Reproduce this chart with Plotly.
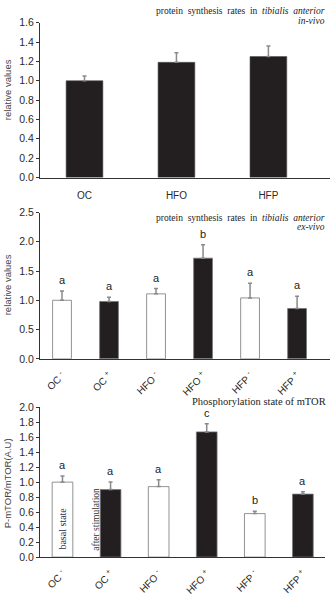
import plotly.graph_objects as go

# ---- data ----
cats1 = ["OC", "HFO", "HFP"]
vals1 = [1.00, 1.19, 1.25]
err1 = [0.05, 0.10, 0.11]

cats2 = ["OC <sup>-</sup>", "OC <sup>+</sup>", "HFO <sup>-</sup>", "HFO <sup>+</sup>", "HFP <sup>-</sup>", "HFP <sup>+</sup>"]
vals2 = [1.00, 0.98, 1.11, 1.72, 1.04, 0.86]
err2 = [0.16, 0.07, 0.09, 0.23, 0.25, 0.21]
letters2 = ["a", "a", "a", "b", "a", "a"]

cats3 = cats2
vals3 = [1.00, 0.90, 0.94, 1.67, 0.58, 0.84]
err3 = [0.08, 0.10, 0.09, 0.11, 0.03, 0.03]
letters3 = ["a", "a", "a", "c", "b", "a"]

stim = ["basal", "stim", "basal", "stim", "basal", "stim"]

BLACK = "#231f20"
GRAY = "#8a8a8a"
AX = "#333333"
SANS = "Liberation Sans, Arial, sans-serif"
SERIF = "Liberation Serif, Times New Roman, serif"

fig = go.Figure()

def colors(kinds):
    return ["white" if k == "basal" else BLACK for k in kinds]

fig.add_trace(go.Bar(
    x=cats1, y=vals1, width=0.4, xaxis="x", yaxis="y",
    marker=dict(color=BLACK, line=dict(color="#555", width=0.6)),
    error_y=dict(type="data", array=err1, arrayminus=[0]*3, symmetric=False,
                 color=GRAY, thickness=1.5, width=2),
    showlegend=False))

fig.add_trace(go.Bar(
    x=cats2, y=vals2, width=0.4, xaxis="x2", yaxis="y2",
    marker=dict(color=colors(stim), line=dict(color="#777", width=0.8)),
    error_y=dict(type="data", array=err2, arrayminus=[0]*6, symmetric=False,
                 color=GRAY, thickness=1.5, width=2),
    showlegend=False))

fig.add_trace(go.Bar(
    x=cats3, y=vals3, width=0.43, xaxis="x3", yaxis="y3",
    marker=dict(color=colors(stim), line=dict(color="#777", width=0.8)),
    error_y=dict(type="data", array=err3, arrayminus=[0]*6, symmetric=False,
                 color=GRAY, thickness=1.5, width=2),
    showlegend=False))

H = 602.0
W = 330.0

def ydom(top_px, bot_px):
    return [1 - bot_px / H, 1 - top_px / H]

yax_common = dict(showline=True, linecolor=AX, linewidth=1.3, ticks="outside",
                  ticklen=3, tickcolor=AX, tickwidth=1, showgrid=False, zeroline=False,
                  tickfont=dict(family=SANS, size=10.5, color="#2a2a2a"), tickformat=".1f")
xax_common = dict(showline=True, linecolor=AX, linewidth=1.3, ticks="", showgrid=False,
                  zeroline=False, tickfont=dict(family=SANS, size=10, color="#2a2a2a"))

fig.update_layout(
    width=330, height=602, margin=dict(l=0, r=0, t=0, b=0),
    paper_bgcolor="white", plot_bgcolor="white",
    xaxis=dict(domain=[40 / W, 1.0], range=[-0.484, 2.67], anchor="y", ticklabelstandoff=8, **xax_common),
    yaxis=dict(domain=ydom(17, 175), range=[0, 1.6], dtick=0.2, anchor="x", **yax_common),
    xaxis2=dict(domain=[40 / W, 1.0], range=[-0.468, 5.70], anchor="y2", tickangle=-45, ticklabelstandoff=6, **xax_common),
    yaxis2=dict(domain=ydom(210.7, 360), range=[0, 2.5], dtick=0.5, anchor="x2", **yax_common),
    xaxis3=dict(domain=[40 / W, 325 / W], range=[-0.468, 5.46], anchor="y3", tickangle=-45, ticklabelstandoff=6, **xax_common),
    yaxis3=dict(domain=ydom(409.3, 562.3), range=[0, 2.0], dtick=0.2, anchor="x3", **yax_common),
)

ann = []
# titles
ann.append(dict(text="protein  synthesis  rates  in  <i>tibialis  anterior</i>", x=327 / W, y=1 - 5 / H,
                xref="paper", yref="paper", xanchor="right", yanchor="middle", showarrow=False,
                font=dict(family=SERIF, size=9.5, color="#222")))
ann.append(dict(text="<i>in-vivo</i>", x=327 / W, y=1 - 15 / H,
                xref="paper", yref="paper", xanchor="right", yanchor="middle", showarrow=False,
                font=dict(family=SERIF, size=9.5, color="#222")))
ann.append(dict(text="protein  synthesis  rates  in  <i>tibialis  anterior</i>", x=327 / W, y=1 - 216 / H,
                xref="paper", yref="paper", xanchor="right", yanchor="middle", showarrow=False,
                font=dict(family=SERIF, size=9.5, color="#222")))
ann.append(dict(text="<i>ex-vivo</i>", x=327 / W, y=1 - 225.5 / H,
                xref="paper", yref="paper", xanchor="right", yanchor="middle", showarrow=False,
                font=dict(family=SERIF, size=9.5, color="#222")))
ann.append(dict(text="Phosphorylation state of mTOR", x=328 / W, y=1 - 404 / H,
                xref="paper", yref="paper", xanchor="right", yanchor="middle", showarrow=False,
                font=dict(family=SERIF, size=10.5, color="#222")))
# y axis titles
for txt, ypx in [("relative values", 86), ("relative values", 285), ("P-mTOR/mTOR(A.U)", 487)]:
    ann.append(dict(text=txt, x=7 / W, y=1 - ypx / H, xref="paper", yref="paper",
                    xanchor="center", yanchor="middle", textangle=-90, showarrow=False,
                    font=dict(family=SANS, size=9.5, color="#444")))
# significance letters
for c, v, e, l in zip(cats2, vals2, err2, letters2):
    ann.append(dict(text=l, x=c, y=v + e, xref="x2", yref="y2", yshift=11,
                    xanchor="center", yanchor="middle", showarrow=False,
                    font=dict(family=SANS, size=11, color="#222")))
for c, v, e, l in zip(cats3, vals3, err3, letters3):
    ann.append(dict(text=l, x=c, y=v + e, xref="x3", yref="y3", yshift=11,
                    xanchor="center", yanchor="middle", showarrow=False,
                    font=dict(family=SANS, size=11, color="#222")))
# in-bar labels
ann.append(dict(text="basal state", x=cats3[0], y=0, xref="x3", yref="y3", yshift=28,
                xanchor="center", yanchor="middle", textangle=-90, showarrow=False,
                font=dict(family=SERIF, size=10, color="#2a2a55")))
ann.append(dict(text="after stimulation", x=cats3[1], y=0, xref="x3", yref="y3", xshift=-14, yshift=38,
                xanchor="center", yanchor="middle", textangle=-90, showarrow=False,
                font=dict(family=SERIF, size=9.5, color="#333")))
fig.update_layout(annotations=ann)

fig.write_html("out.html")
